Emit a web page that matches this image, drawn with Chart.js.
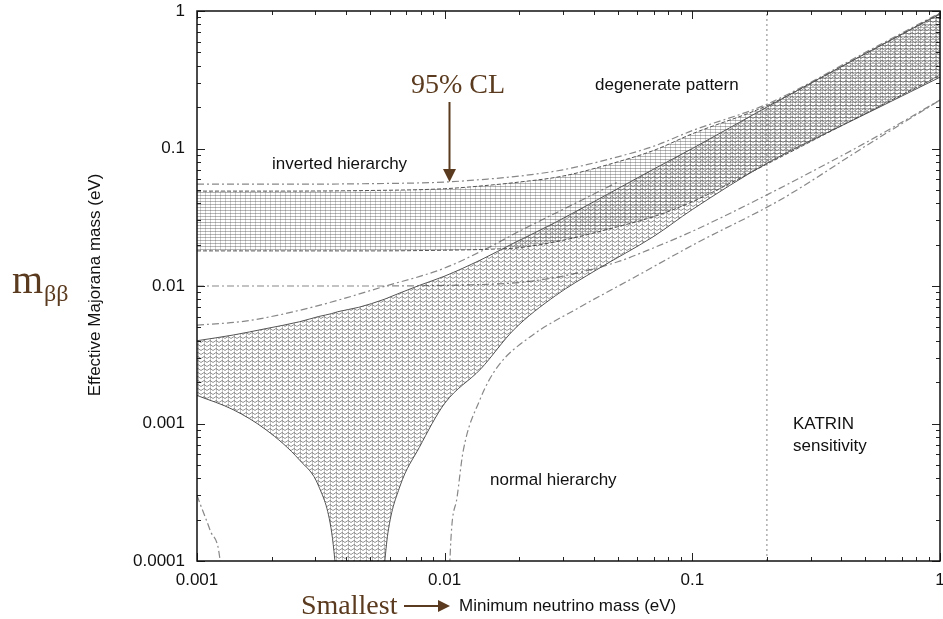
<!DOCTYPE html>
<html><head><meta charset="utf-8">
<script src="https://cdn.jsdelivr.net/npm/chart.js@4.4.0/dist/chart.umd.min.js"></script>
<style>html,body{margin:0;padding:0;background:#fff;}canvas{display:block;}</style>
</head><body>
<canvas id="c" width="943" height="619"></canvas>
<script>
// ---- tick labels ----
const xTickLabels = ['0.001', '0.01', '0.1', '1'];
const yTickLabels = ['0.0001', '0.001', '0.01', '0.1', '1'];

// ---- normal hierarchy band (best fit) ----
const nhX     = [0.001, 0.0014, 0.0019, 0.0026, 0.0031, 0.0035, 0.0037, 0.0045, 0.0057, 0.0059, 0.0066, 0.0079, 0.01, 0.014, 0.019, 0.028, 0.041, 0.07, 0.1, 0.2, 0.5, 1];
const nhUpper = [0.0040, 0.0044, 0.0049, 0.0055, 0.0060, 0.0063, 0.0065, 0.0070, 0.0080, 0.0082, 0.0089, 0.0101, 0.0118, 0.0155, 0.0205, 0.029, 0.042, 0.071, 0.10, 0.20, 0.49, 0.95];
const nhLower = [0.0016, 0.00126, 0.00090, 0.00054, 0.00035, 0.00016, 0.00006, 0.000001, 0.00009, 0.00016, 0.00035, 0.00067, 0.0014, 0.0025, 0.0048, 0.0085, 0.0131, 0.023, 0.036, 0.078, 0.178, 0.33];

// ---- inverted hierarchy band (best fit) ----
const ihX     = [0.001, 0.002, 0.005, 0.01, 0.015, 0.02, 0.03, 0.05, 0.07, 0.1, 0.2, 0.5, 1];
const ihUpper = [0.049, 0.049, 0.0495, 0.051, 0.054, 0.057, 0.063, 0.080, 0.097, 0.128, 0.205, 0.49, 0.96];
const ihLower = [0.018, 0.018, 0.018, 0.0182, 0.0185, 0.019, 0.0215, 0.027, 0.032, 0.041, 0.077, 0.18, 0.34];

// ---- 95% CL (dash-dot) limits ----
const ihUpper95 = [0.055, 0.055, 0.0555, 0.057, 0.060, 0.063, 0.070, 0.087, 0.104, 0.135, 0.21, 0.5, 0.97];
const ihLower95 = [0.0100, 0.0100, 0.0100, 0.0101, 0.0103, 0.0106, 0.0118, 0.0150, 0.019, 0.025, 0.046, 0.11, 0.225];
const nhUpper95X = [0.001, 0.0015, 0.002, 0.003, 0.004, 0.006, 0.008, 0.01, 0.015, 0.02, 0.03, 0.05];
const nhUpper95  = [0.0052, 0.0055, 0.0060, 0.0071, 0.0082, 0.0102, 0.0118, 0.0135, 0.019, 0.025, 0.036, 0.057];
const nhLower95LeftX = [0.001, 0.00103, 0.00113, 0.00124, 0.0013];
const nhLower95Left  = [0.0003, 0.00026, 0.000167, 0.0001, 0.00003];
const nhLower95RightX = [0.0104, 0.0105, 0.01122, 0.01186, 0.0139, 0.01626, 0.0221, 0.0352, 0.056, 0.1044, 0.226, 0.5, 1];
const nhLower95Right  = [0.00004, 0.0001, 0.00029, 0.00062, 0.00150, 0.00255, 0.00426, 0.00703, 0.0111, 0.0206, 0.0422, 0.104, 0.225];

// ---- KATRIN sensitivity ----
const katrinX = [0.2, 0.2];
const katrinY = [0.0001, 1];

const pts = (xs, ys) => xs.map((x, i) => ({x: x, y: ys[i]}));

function makePattern(w, h, draw) {
  const c = document.createElement('canvas'); c.width = w; c.height = h;
  const g = c.getContext('2d'); draw(g);
  return g.createPattern(c, 'repeat');
}
const ihPattern = makePattern(5, 3, g => {
  g.fillStyle = 'rgba(80,80,80,0.42)'; g.fillRect(0, 0, 5, 1);
  g.fillStyle = 'rgba(80,80,80,0.28)'; g.fillRect(0, 0, 1, 3);
});
const nhPattern = makePattern(6, 4, g => {
  g.strokeStyle = 'rgba(60,60,60,0.55)'; g.lineWidth = 1;
  g.beginPath(); g.moveTo(0, 0.5); g.lineTo(3, 2.5); g.lineTo(6, 0.5); g.stroke();
  g.fillStyle = 'rgba(60,60,60,0.3)'; g.fillRect(0, 0, 1, 4);
});

const dashDot = [7, 3, 2, 3];
const base = {pointRadius: 0, clip: 0, cubicInterpolationMode: 'monotone', fill: false};

const isDecade = v => Math.abs(Math.log10(v) - Math.round(Math.log10(v))) < 1e-6;

const tickPlugin = {
  id: 'innerTicks',
  afterDatasetsDraw(chart) {
    const {ctx, chartArea: a, scales: {x, y}} = chart;
    ctx.save();
    ctx.strokeStyle = '#222'; ctx.lineWidth = 1;
    for (let e = -3; e <= 0; e++) {
      for (let k = 1; k <= 9; k++) {
        const v = k * Math.pow(10, e);
        if (v > 1.0001) continue;
        const px = Math.round(x.getPixelForValue(v)) + 0.5;
        const len = k === 1 ? 8 : 4;
        ctx.beginPath();
        ctx.moveTo(px, a.bottom); ctx.lineTo(px, a.bottom - len);
        ctx.moveTo(px, a.top); ctx.lineTo(px, a.top + len);
        ctx.stroke();
      }
    }
    for (let e = -4; e <= 0; e++) {
      for (let k = 1; k <= 9; k++) {
        const v = k * Math.pow(10, e);
        if (v > 1.0001) continue;
        const py = Math.round(y.getPixelForValue(v)) + 0.5;
        const len = k === 1 ? 8 : 4;
        ctx.beginPath();
        ctx.moveTo(a.left, py); ctx.lineTo(a.left + len, py);
        ctx.moveTo(a.right, py); ctx.lineTo(a.right - len, py);
        ctx.stroke();
      }
    }
    ctx.lineWidth = 1.5; ctx.strokeStyle = '#111';
    ctx.strokeRect(a.left, a.top, a.right - a.left, a.bottom - a.top);
    ctx.restore();
  }
};

const brown = '#5b3b1f';
const textPlugin = {
  id: 'texts',
  afterDraw(chart) {
    const ctx = chart.ctx;
    ctx.save();
    ctx.fillStyle = '#111';
    ctx.font = '17px "Liberation Sans", Arial, sans-serif';
    ctx.textBaseline = 'middle'; ctx.textAlign = 'left';
    ctx.fillText('inverted hierarchy', 272, 164);
    ctx.fillText('degenerate pattern', 595, 85);
    ctx.fillText('normal hierarchy', 490, 480);
    ctx.fillText('KATRIN', 793, 424);
    ctx.fillText('sensitivity', 793, 446);
    ctx.fillText('Minimum neutrino mass (eV)', 459, 606);
    // y title
    ctx.save();
    ctx.translate(95, 285); ctx.rotate(-Math.PI / 2);
    ctx.textAlign = 'center';
    ctx.fillText('Effective Majorana mass (eV)', 0, 0);
    ctx.restore();
    // brown annotations
    ctx.fillStyle = brown; ctx.strokeStyle = brown;
    ctx.textBaseline = 'alphabetic';
    ctx.font = '28px "Liberation Serif", "Times New Roman", serif';
    ctx.fillText('95% CL', 411, 93);
    ctx.fillText('Smallest', 301, 614);
    ctx.font = '40px "Liberation Serif", "Times New Roman", serif';
    ctx.fillText('m', 12, 293);
    ctx.font = '24px "Liberation Serif", "Times New Roman", serif';
    ctx.fillText('ββ', 44, 301);
    // arrows
    ctx.lineWidth = 2;
    ctx.beginPath(); ctx.moveTo(449.5, 102); ctx.lineTo(449.5, 171); ctx.stroke();
    ctx.beginPath(); ctx.moveTo(443, 169); ctx.lineTo(456, 169); ctx.lineTo(449.5, 182); ctx.closePath(); ctx.fill();
    ctx.beginPath(); ctx.moveTo(404, 606); ctx.lineTo(440, 606); ctx.stroke();
    ctx.beginPath(); ctx.moveTo(438, 600); ctx.lineTo(438, 612); ctx.lineTo(450, 606); ctx.closePath(); ctx.fill();
    ctx.restore();
  }
};

new Chart(document.getElementById('c'), {
  type: 'line',
  data: {
    datasets: [
      Object.assign({}, base, {label: 'NH upper', data: pts(nhX, nhUpper), borderColor: '#555', borderWidth: 1, fill: 1, backgroundColor: nhPattern}),
      Object.assign({}, base, {label: 'NH lower', data: pts(nhX, nhLower), borderColor: '#555', borderWidth: 1}),
      Object.assign({}, base, {label: 'IH upper', data: pts(ihX, ihUpper), borderColor: '#555', borderWidth: 1, borderDash: [4, 2], fill: 3, backgroundColor: ihPattern}),
      Object.assign({}, base, {label: 'IH lower', data: pts(ihX, ihLower), borderColor: '#555', borderWidth: 1, borderDash: [4, 2]}),
      Object.assign({}, base, {label: 'IH upper 95', data: pts(ihX, ihUpper95), borderColor: '#888', borderWidth: 1.2, borderDash: dashDot}),
      Object.assign({}, base, {label: 'IH lower 95', data: pts(ihX, ihLower95), borderColor: '#888', borderWidth: 1.2, borderDash: dashDot}),
      Object.assign({}, base, {label: 'NH upper 95', data: pts(nhUpper95X, nhUpper95), borderColor: '#888', borderWidth: 1.2, borderDash: dashDot}),
      Object.assign({}, base, {label: 'NH lower 95 a', data: pts(nhLower95LeftX, nhLower95Left), borderColor: '#888', borderWidth: 1.2, borderDash: dashDot}),
      Object.assign({}, base, {label: 'NH lower 95 b', data: pts(nhLower95RightX, nhLower95Right), borderColor: '#888', borderWidth: 1.2, borderDash: dashDot}),
      Object.assign({}, base, {label: 'KATRIN', data: pts(katrinX, katrinY), borderColor: '#999', borderWidth: 1.2, borderDash: [2, 3], cubicInterpolationMode: 'default', tension: 0})
    ]
  },
  options: {
    responsive: false,
    animation: false,
    devicePixelRatio: 1,
    layout: {padding: {left: 0, right: 3, top: 11, bottom: 0}},
    plugins: {legend: {display: false}, tooltip: {enabled: false}},
    scales: {
      x: {
        type: 'logarithmic', min: 0.001, max: 1,
        grid: {display: false, drawTicks: false},
        border: {display: false},
        ticks: {
          autoSkip: false, maxRotation: 0, padding: 9, color: '#111',
          font: {family: '"Liberation Sans", Arial, sans-serif', size: 17},
          callback: v => isDecade(v) ? xTickLabels[Math.round(Math.log10(v)) + 3] : ''
        },
        afterFit(s) { s.height = 58; s.paddingLeft = 0; s.paddingRight = 0; }
      },
      y: {
        type: 'logarithmic', min: 0.0001, max: 1,
        grid: {display: false, drawTicks: false},
        border: {display: false},
        ticks: {
          autoSkip: false, padding: 12, color: '#111',
          font: {family: '"Liberation Sans", Arial, sans-serif', size: 17},
          callback: v => isDecade(v) ? yTickLabels[Math.round(Math.log10(v)) + 4] : ''
        },
        afterFit(s) { s.width = 197; s.paddingTop = 0; s.paddingBottom = 0; }
      }
    }
  },
  plugins: [tickPlugin, textPlugin]
});
</script>
</body></html>
